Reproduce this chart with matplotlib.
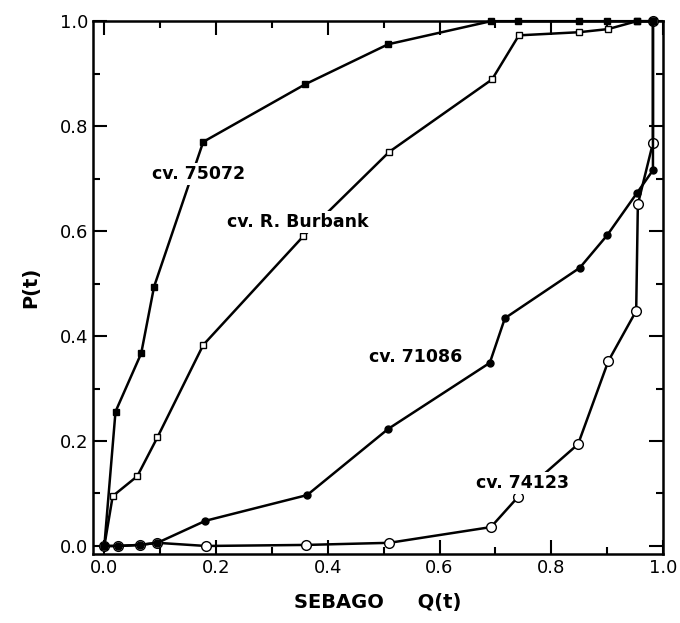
import matplotlib
matplotlib.use("Agg")
import matplotlib.pyplot as plt
from matplotlib.ticker import MultipleLocator

# cv. 75072 (filled squares)
q_75072 = [0.0, 0.020, 0.066, 0.089, 0.177, 0.360, 0.508, 0.692, 0.741, 0.850, 0.900, 0.953, 0.982]
p_75072 = [0.0, 0.256, 0.367, 0.494, 0.770, 0.880, 0.956, 1.000, 1.000, 1.000, 1.000, 1.000, 1.000]

# cv. R. Burbank (open squares)
q_burbank = [0.0, 0.015, 0.059, 0.095, 0.177, 0.356, 0.510, 0.694, 0.742, 0.850, 0.902, 0.953, 0.982]
p_burbank = [0.0, 0.095, 0.133, 0.207, 0.383, 0.590, 0.751, 0.889, 0.973, 0.979, 0.985, 1.000, 1.000]

# cv. 74123 (open circles)
q_74123 = [0.0, 0.025, 0.063, 0.095, 0.182, 0.361, 0.510, 0.692, 0.741, 0.848, 0.902, 0.952, 0.955, 0.982, 0.982]
p_74123 = [0.0, 0.000, 0.002, 0.006, 0.000, 0.002, 0.006, 0.036, 0.094, 0.194, 0.352, 0.448, 0.651, 0.768, 1.000]

# cv. 71086 (filled circles)
q_71086 = [0.0, 0.025, 0.063, 0.095, 0.181, 0.363, 0.508, 0.690, 0.717, 0.851, 0.900, 0.953, 0.982, 0.982]
p_71086 = [0.0, 0.000, 0.002, 0.006, 0.048, 0.097, 0.223, 0.349, 0.434, 0.530, 0.592, 0.672, 0.716, 1.000]

labels = ["cv. 75072", "cv. R. Burbank", "cv. 71086", "cv. 74123"]
label_pos = [(0.168, 0.709), (0.347, 0.617), (0.557, 0.360), (0.748, 0.120)]

fig = plt.figure(figsize=(6.8, 6.23), dpi=100)
ax = fig.add_axes([0.137, 0.111, 0.838, 0.855])

lw = 1.8
ax.plot(q_74123, p_74123, color="black", lw=lw, marker="o", ms=7,
        mfc="white", mec="black", mew=1.0, zorder=2, clip_on=False)
ax.plot(q_71086, p_71086, color="black", lw=lw, marker="o", ms=5,
        mfc="black", mec="black", zorder=3, clip_on=False)
ax.plot(q_burbank, p_burbank, color="black", lw=lw, marker="s", ms=5,
        mfc="white", mec="black", mew=1.0, zorder=2, clip_on=False)
ax.plot(q_75072, p_75072, color="black", lw=lw, marker="s", ms=4.5,
        mfc="black", mec="black", zorder=3, clip_on=False)

for txt, (x, y) in zip(labels, label_pos):
    ax.text(x, y, txt, fontsize=12.5, fontweight="bold", ha="center", va="center",
            zorder=5, bbox=dict(facecolor="white", edgecolor="none", pad=1.5))

ax.set_xlim(-0.02, 1.0)
ax.set_ylim(-0.015, 1.0)
ax.xaxis.set_major_locator(MultipleLocator(0.2))
ax.xaxis.set_minor_locator(MultipleLocator(0.1))
ax.yaxis.set_major_locator(MultipleLocator(0.2))
ax.yaxis.set_minor_locator(MultipleLocator(0.1))
ax.xaxis.set_major_formatter(plt.FuncFormatter(lambda v, p: f"{v:.1f}"))
ax.yaxis.set_major_formatter(plt.FuncFormatter(lambda v, p: f"{v:.1f}"))
ax.tick_params(which="both", direction="in", top=True, right=True, width=1.5,
               labelsize=13)
ax.tick_params(which="major", length=10)
ax.tick_params(which="minor", length=5)
for s in ax.spines.values():
    s.set_linewidth(1.8)
    s.set_zorder(1)

ax.set_xlabel("SEBAGO     Q(t)", fontsize=14, fontweight="bold", labelpad=12)
ax.set_ylabel("P(t)", fontsize=14, fontweight="bold", labelpad=14)

fig.savefig("out.png", dpi=100)
